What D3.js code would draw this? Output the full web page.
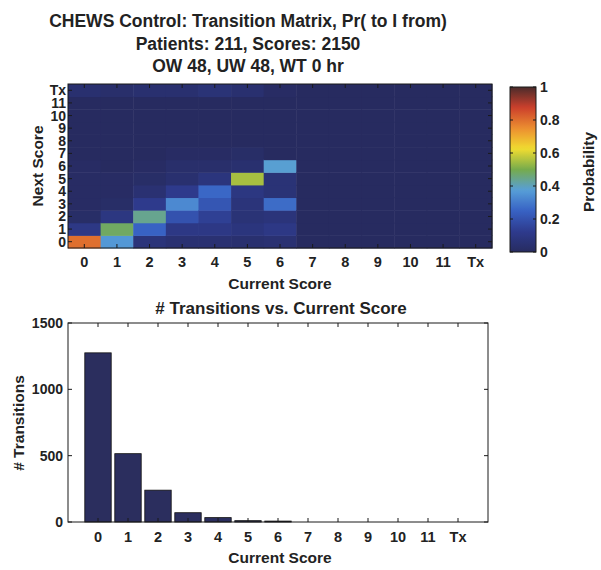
<!DOCTYPE html>
<html>
<head>
<meta charset="utf-8">
<script src="https://cdn.jsdelivr.net/npm/d3@7"></script>
<style>
  html, body { margin: 0; padding: 0; background: #ffffff; }
  svg text { font-family: "Liberation Sans", Arial, Helvetica, sans-serif; font-weight: bold; fill: #222222; }
</style>
</head>
<body>
<svg id="chart" width="601" height="570"></svg>
<script>
// Score categories (current / next score), "Tx" = transfer
const scoreLabels = ["0", "1", "2", "3", "4", "5", "6", "7", "8", "9", "10", "11", "Tx"];

// Transition probabilities: transitionProb[from][to]
const transitionProb = [
  [0.80, 0.10, 0.02, 0.01, 0.01, 0.01, 0.01, 0.00, 0.00, 0.00, 0.00, 0.00, 0.04],
  [0.36, 0.48, 0.09, 0.02, 0.01, 0.01, 0.00, 0.00, 0.00, 0.00, 0.00, 0.00, 0.03],
  [0.07, 0.25, 0.44, 0.12, 0.05, 0.02, 0.01, 0.00, 0.00, 0.00, 0.00, 0.00, 0.04],
  [0.05, 0.10, 0.20, 0.33, 0.12, 0.04, 0.03, 0.01, 0.00, 0.00, 0.00, 0.00, 0.04],
  [0.05, 0.10, 0.14, 0.21, 0.26, 0.08, 0.03, 0.01, 0.00, 0.00, 0.00, 0.00, 0.06],
  [0.04, 0.08, 0.06, 0.07, 0.09, 0.55, 0.04, 0.02, 0.00, 0.00, 0.00, 0.00, 0.04],
  [0.05, 0.10, 0.07, 0.27, 0.06, 0.06, 0.38, 0.00, 0.00, 0.00, 0.00, 0.00, 0.01],
  [0, 0, 0, 0, 0, 0, 0, 0, 0, 0, 0, 0, 0],
  [0, 0, 0, 0, 0, 0, 0, 0, 0, 0, 0, 0, 0],
  [0, 0, 0, 0, 0, 0, 0, 0, 0, 0, 0, 0, 0],
  [0, 0, 0, 0, 0, 0, 0, 0, 0, 0, 0, 0, 0],
  [0, 0, 0, 0, 0, 0, 0, 0, 0, 0, 0, 0, 0],
  [0, 0, 0, 0, 0, 0, 0, 0, 0, 0, 0, 0, 0]
];

// Number of transitions observed from each current score
const transitionCounts = [1275, 515, 240, 70, 33, 10, 7, 0, 0, 0, 0, 0, 0];

const colorbarTicks = [0, 0.2, 0.4, 0.6, 0.8, 1];
const countTicks = [0, 500, 1000, 1500];

const titleLines = [
  "CHEWS Control: Transition Matrix, Pr( to I from)",
  "Patients: 211, Scores: 2150",
  "OW 48, UW 48, WT 0 hr"
];

// Jet-style colour map (muted tones)
const jetStops = [0, 0.125, 0.25, 0.375, 0.5, 0.625, 0.75, 0.875, 1];
const jetColors = ["#272b60", "#2e3b8e", "#3862c4", "#579fd8", "#76ab4c", "#f0dc30", "#ec8e30", "#cc402c", "#4a2b2b"];
const colorScale = d3.scaleLinear().domain(jetStops).range(jetColors).interpolate(d3.interpolateRgb).clamp(true);

const svg = d3.select("#chart");
const ink = "#1a1a1a";

// ---------- Titles ----------
svg.append("g").selectAll("text").data(titleLines).join("text")
  .attr("x", 248).attr("y", (d, i) => 27 + i * 22.5)
  .attr("text-anchor", "middle").attr("font-size", 17.5)
  .text(d => d);

// ---------- Heatmap ----------
const hm = { left: 68, right: 492, top: 84, bottom: 248 };
const xBand = d3.scaleBand().domain(d3.range(13)).range([hm.left, hm.right]);
const yBand = d3.scaleBand().domain(d3.range(13)).range([hm.bottom, hm.top]);

const cells = [];
transitionProb.forEach((col, from) => col.forEach((p, to) => cells.push({ from, to, p })));

svg.append("g").selectAll("rect").data(cells).join("rect")
  .attr("x", d => xBand(d.from)).attr("y", d => yBand(d.to))
  .attr("width", xBand.bandwidth() + 0.5).attr("height", yBand.bandwidth() + 0.5)
  .attr("fill", d => colorScale(d.p));

svg.append("rect").attr("x", hm.left).attr("y", hm.top)
  .attr("width", hm.right - hm.left).attr("height", hm.bottom - hm.top)
  .attr("fill", "none").attr("stroke", ink).attr("stroke-width", 1);

// inward tick marks on all four sides
const hmTicks = svg.append("g").attr("stroke", ink).attr("stroke-width", 1);
d3.range(13).forEach(i => {
  const cx = xBand(i) + xBand.bandwidth() / 2;
  const cy = yBand(i) + yBand.bandwidth() / 2;
  hmTicks.append("line").attr("x1", cx).attr("x2", cx).attr("y1", hm.bottom).attr("y2", hm.bottom - 4);
  hmTicks.append("line").attr("x1", cx).attr("x2", cx).attr("y1", hm.top).attr("y2", hm.top + 4);
  hmTicks.append("line").attr("x1", hm.left).attr("x2", hm.left + 4).attr("y1", cy).attr("y2", cy);
  hmTicks.append("line").attr("x1", hm.right).attr("x2", hm.right - 4).attr("y1", cy).attr("y2", cy);
});

svg.append("g").selectAll("text").data(scoreLabels).join("text")
  .attr("x", (d, i) => xBand(i) + xBand.bandwidth() / 2).attr("y", 267)
  .attr("text-anchor", "middle").attr("font-size", 14.5).text(d => d);

// row labels are packed tightly, as in a dense MATLAB tick axis
svg.append("g").selectAll("text").data(scoreLabels).join("text")
  .attr("x", 66).attr("y", (d, i) => yBand(i) + yBand.bandwidth() / 2 + 5)
  .attr("text-anchor", "end").attr("font-size", 14).text(d => d);

svg.append("text").attr("x", 280).attr("y", 289).attr("text-anchor", "middle")
  .attr("font-size", 15.5).text("Current Score");

svg.append("text").attr("transform", "translate(43,166) rotate(-90)")
  .attr("text-anchor", "middle").attr("font-size", 15.5).text("Next Score");

// ---------- Colour bar ----------
const cb = { left: 510, right: 536, top: 87, bottom: 252 };
const cbScale = d3.scaleLinear().domain([0, 1]).range([cb.bottom, cb.top]);
const grad = svg.append("defs").append("linearGradient").attr("id", "jetGrad")
  .attr("x1", 0).attr("y1", 1).attr("x2", 0).attr("y2", 0);
grad.selectAll("stop").data(d3.range(0, 1.0001, 0.02)).join("stop")
  .attr("offset", d => d).attr("stop-color", d => colorScale(d));
svg.append("rect").attr("x", cb.left).attr("y", cb.top)
  .attr("width", cb.right - cb.left).attr("height", cb.bottom - cb.top)
  .attr("fill", "url(#jetGrad)").attr("stroke", ink);

const cbAxis = svg.append("g").attr("transform", `translate(${cb.right},0)`)
  .call(d3.axisRight(cbScale).tickValues(colorbarTicks).tickSize(0).tickPadding(4)
    .tickFormat(d3.format("~g")));
cbAxis.select(".domain").remove();
cbAxis.selectAll("text").attr("font-size", 14).attr("fill", "#222222").attr("font-family", null);
colorbarTicks.forEach(t => {
  svg.append("line").attr("x1", cb.right).attr("x2", cb.right - 3).attr("y1", cbScale(t)).attr("y2", cbScale(t)).attr("stroke", ink);
  svg.append("line").attr("x1", cb.left).attr("x2", cb.left + 3).attr("y1", cbScale(t)).attr("y2", cbScale(t)).attr("stroke", ink);
});

svg.append("text").attr("transform", "translate(594,172) rotate(-90)")
  .attr("text-anchor", "middle").attr("font-size", 15.5).text("Probability");

// ---------- Bar chart ----------
const bc = { left: 68, right: 488, top: 323, bottom: 522 };
const x = d3.scaleLinear().domain([-1, 13]).range([bc.left, bc.right]);
const y = d3.scaleLinear().domain([0, 1500]).range([bc.bottom, bc.top]);
const barW = (x(1) - x(0)) * 0.88;

svg.append("text").attr("x", 281).attr("y", 314).attr("text-anchor", "middle")
  .attr("font-size", 17).text("# Transitions vs. Current Score");

svg.append("g").selectAll("rect").data(transitionCounts).join("rect")
  .attr("x", (d, i) => x(i) - barW / 2).attr("y", d => y(d))
  .attr("width", barW).attr("height", d => bc.bottom - y(d))
  .attr("fill", "#2b2e5e").attr("stroke", "#111").attr("stroke-width", 0.8);

svg.append("rect").attr("x", bc.left).attr("y", bc.top)
  .attr("width", bc.right - bc.left).attr("height", bc.bottom - bc.top)
  .attr("fill", "none").attr("stroke", ink).attr("stroke-width", 1);

const bcTicks = svg.append("g").attr("stroke", ink).attr("stroke-width", 1);
d3.range(13).forEach(i => {
  bcTicks.append("line").attr("x1", x(i)).attr("x2", x(i)).attr("y1", bc.bottom).attr("y2", bc.bottom - 4);
  bcTicks.append("line").attr("x1", x(i)).attr("x2", x(i)).attr("y1", bc.top).attr("y2", bc.top + 4);
});
countTicks.forEach(t => {
  bcTicks.append("line").attr("x1", bc.left).attr("x2", bc.left + 4).attr("y1", y(t)).attr("y2", y(t));
  bcTicks.append("line").attr("x1", bc.right).attr("x2", bc.right - 4).attr("y1", y(t)).attr("y2", y(t));
});

svg.append("g").selectAll("text").data(scoreLabels).join("text")
  .attr("x", (d, i) => x(i)).attr("y", 542)
  .attr("text-anchor", "middle").attr("font-size", 14.5).text(d => d);

svg.append("g").selectAll("text").data(countTicks).join("text")
  .attr("x", 63).attr("y", d => y(d) + 5)
  .attr("text-anchor", "end").attr("font-size", 14).text(d => d);

svg.append("text").attr("x", 280).attr("y", 563).attr("text-anchor", "middle")
  .attr("font-size", 15.5).text("Current Score");

svg.append("text").attr("transform", "translate(24,423) rotate(-90)")
  .attr("text-anchor", "middle").attr("font-size", 15.5).text("# Transitions");
</script>
</body>
</html>
